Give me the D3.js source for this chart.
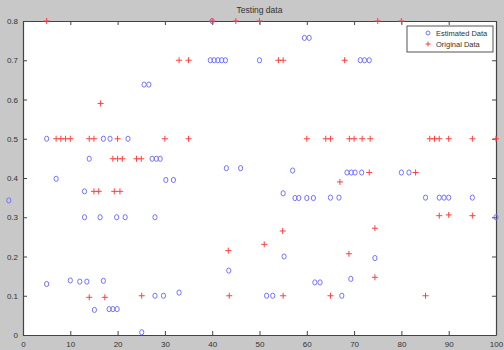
<!DOCTYPE html>
<html><head><meta charset="utf-8">
<script src="https://cdn.jsdelivr.net/npm/d3@7"></script>
<style>body{margin:0;background:#c8c8c8;}svg{display:block;font-family:"Liberation Sans",Arial,sans-serif;}</style>
</head><body>
<script>
const title = "Testing data";
const legendLabels = ["Estimated Data", "Original Data"];
const xTicks = [0,10,20,30,40,50,60,70,80,90,100];
const yTicks = [0,0.1,0.2,0.3,0.4,0.5,0.6,0.7,0.8];

const estX = [-3,5,5,7,10,12,13.5,17,13,13,14,15.1,18.2,19,19.9,16.3,19.8,21.6,17,18.4,22.2,25.1,25.6,26.6,27.3,28.2,29,27.9,27.9,29.7,30.2,31.8,33,39.6,40.4,41.2,42,42.8,40,43,46,43.5,50,51.5,52.8,55,55.2,57,57.5,58.3,60,61.4,65,66.8,59.5,60.5,61.7,62.8,67.4,68.5,69.4,70.2,71.6,69.3,71.3,72.2,73.2,74.4,80,81.6,85.1,88,89,90,95,100];
const estY = [0.343,0.5,0.13,0.398,0.139,0.136,0.136,0.138,0.366,0.3,0.449,0.064,0.066,0.066,0.066,0.3,0.3,0.3,0.5,0.5,0.5,0.007,0.638,0.638,0.449,0.449,0.449,0.3,0.1,0.1,0.395,0.395,0.108,0.7,0.7,0.7,0.7,0.7,0.8,0.425,0.425,0.164,0.7,0.1,0.1,0.361,0.2,0.419,0.349,0.349,0.349,0.349,0.35,0.35,0.757,0.757,0.134,0.134,0.1,0.414,0.414,0.414,0.414,0.143,0.7,0.7,0.7,0.196,0.414,0.414,0.35,0.35,0.35,0.35,0.35,0.3];

const origX = [5,40,45,50,75,80,16.4,33,35,54,55,68,7,8,9,10,14,15,20,30,35,60,64,65,69,70,71.7,73.4,86,87,88,90,95,100,19,20,21,24,25,73.2,83,15,16,19.3,20.5,67,88,90,95,74.4,54.9,51,43.4,68.9,74.4,14,17.3,25.1,43.6,55,65,85.1];
const origY = [0.8,0.8,0.8,0.8,0.8,0.8,0.59,0.7,0.7,0.7,0.7,0.7,0.5,0.5,0.5,0.5,0.5,0.5,0.5,0.5,0.5,0.5,0.5,0.5,0.5,0.5,0.5,0.5,0.5,0.5,0.5,0.5,0.5,0.5,0.449,0.449,0.449,0.449,0.449,0.414,0.414,0.366,0.366,0.366,0.366,0.39,0.304,0.306,0.304,0.272,0.265,0.231,0.215,0.207,0.147,0.096,0.096,0.1,0.1,0.1,0.1,0.1];

const W = 504, H = 350;
const L = 23, R = 496, T = 21, B = 335;
const blue = "#7373ff", red = "#ff4040", axc = "#444";

const svg = d3.select("body").append("svg").attr("width", W).attr("height", H);
svg.append("rect").attr("width", W).attr("height", H).attr("fill", "#c8c8c8");
svg.append("rect").attr("x", L).attr("y", T).attr("width", R - L).attr("height", B - T).attr("fill", "#fff");

const x = d3.scaleLinear().domain([0, 100]).range([L, R]);
const y = d3.scaleLinear().domain([0, 0.8]).range([B, T]);

const fmt = d3.format(".1f");
// bottom axis
const gB = svg.append("g").attr("transform", `translate(0,${B})`)
  .call(d3.axisBottom(x).tickValues(xTicks).tickSizeInner(-4).tickSizeOuter(0).tickPadding(6).tickFormat(d3.format("d")));
// top axis
const gT = svg.append("g").attr("transform", `translate(0,${T})`)
  .call(d3.axisTop(x).tickValues(xTicks).tickSizeInner(-4).tickSizeOuter(0).tickFormat(""));
// left axis
const gL = svg.append("g").attr("transform", `translate(${L},0)`)
  .call(d3.axisLeft(y).tickValues(yTicks).tickSizeInner(-4).tickSizeOuter(0).tickPadding(5).tickFormat(d => d === 0 ? "0" : fmt(d)));
// right axis
const gR = svg.append("g").attr("transform", `translate(${R},0)`)
  .call(d3.axisRight(y).tickValues(yTicks).tickSizeInner(-4).tickSizeOuter(0).tickFormat(""));
[gB, gT, gL, gR].forEach(g => {
  g.selectAll("path.domain").attr("stroke", axc).attr("stroke-width", 1.2);
  g.selectAll(".tick line").attr("stroke", axc);
  g.selectAll("text").attr("fill", "#333").attr("font-size", 8).attr("font-family", "Liberation Sans, Arial, sans-serif");
});

svg.append("text").attr("x", (L + R) / 2).attr("y", 13).attr("text-anchor", "middle")
  .attr("font-size", 8.5).attr("fill", "#333").text(title);

const est = estX.map((v, i) => ({x: v, y: estY[i]}));
const orig = origX.map((v, i) => ({x: v, y: origY[i]}));

svg.append("g").selectAll("ellipse").data(est).join("ellipse")
  .attr("cx", d => x(d.x)).attr("cy", d => y(d.y)).attr("rx", 2.1).attr("ry", 2.6)
  .attr("fill", "none").attr("stroke", blue).attr("stroke-width", 1);

const plus = d3.symbol().type(d3.symbolCross);
svg.append("g").selectAll("path").data(orig).join("path")
  .attr("transform", d => `translate(${x(d.x)},${y(d.y)})`)
  .attr("d", "M-3,0H3M0,-3V3")
  .attr("stroke", red).attr("stroke-width", 1).attr("fill", "none");

// legend
const lg = svg.append("g");
lg.append("rect").attr("x", 407).attr("y", 26).attr("width", 86).attr("height", 26)
  .attr("fill", "#fff").attr("stroke", "#555").attr("stroke-width", 1);
lg.append("ellipse").attr("cx", 428).attr("cy", 33).attr("rx", 2).attr("ry", 2)
  .attr("fill", "none").attr("stroke", blue);
lg.append("path").attr("transform", "translate(428,44)").attr("d", "M-2.5,0H2.5M0,-2.5V2.5")
  .attr("stroke", red).attr("fill", "none");
lg.append("text").attr("x", 436).attr("y", 36).attr("font-size", 7.5).attr("fill", "#333").text(legendLabels[0]);
lg.append("text").attr("x", 436).attr("y", 47).attr("font-size", 7.5).attr("fill", "#333").text(legendLabels[1]);
</script>
</body></html>
